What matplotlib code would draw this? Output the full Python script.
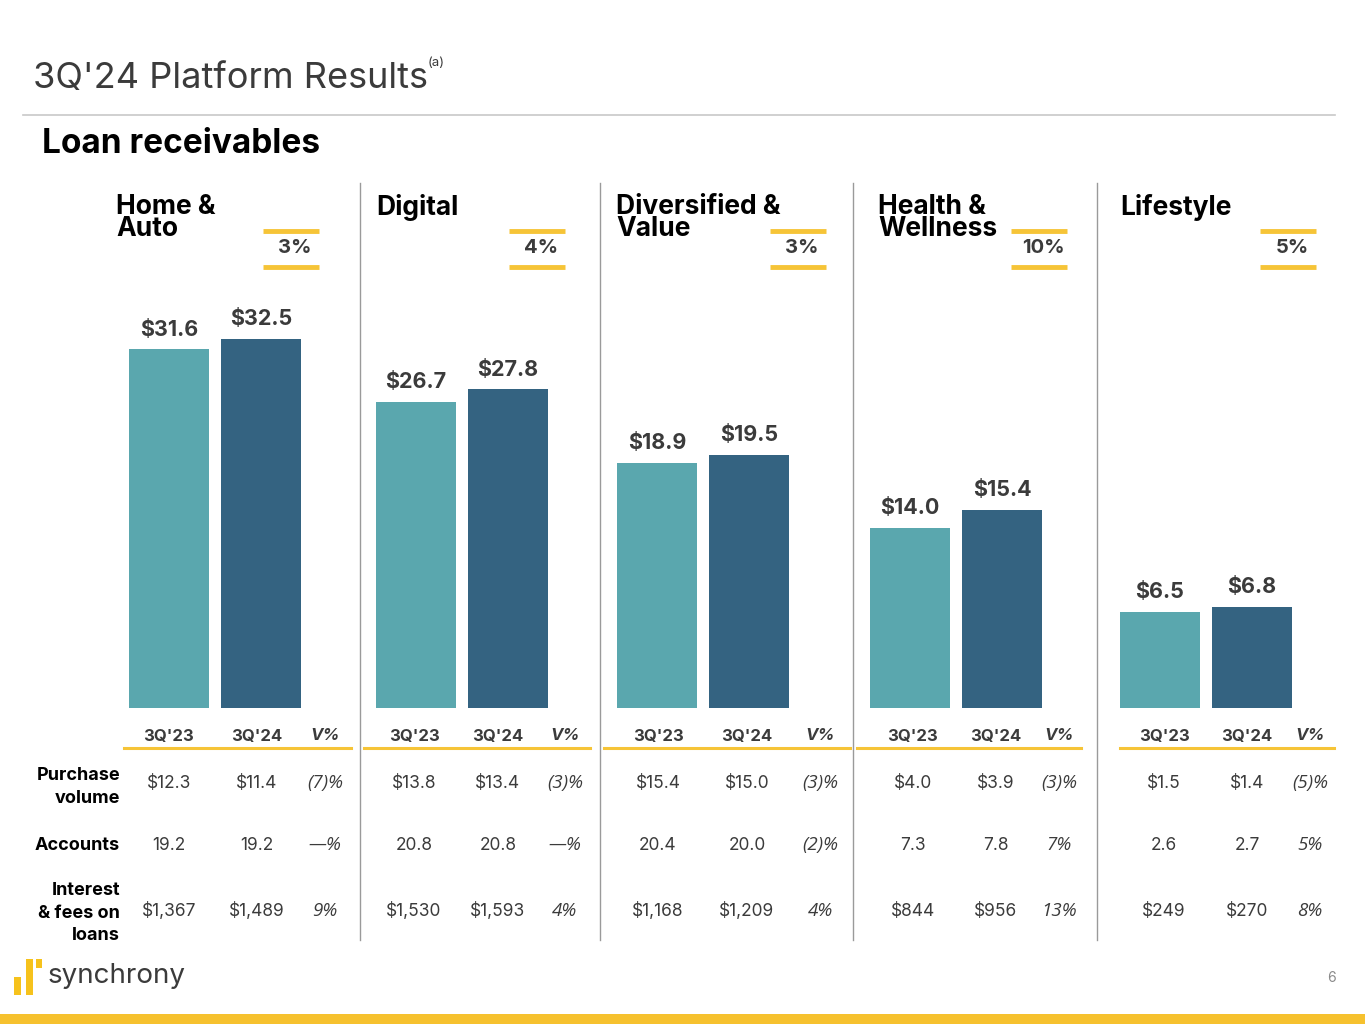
import matplotlib
matplotlib.use("Agg")
import matplotlib.pyplot as plt
from matplotlib.patches import Rectangle

plt.rcParams['font.family'] = ['Inter', 'DejaVu Sans']

# ---- data ----
segments = ["Home &\nAuto", "Digital", "Diversified &\nValue", "Health &\nWellness", "Lifestyle"]
periods = ["3Q'23", "3Q'24"]
loans_23 = [31.6, 26.7, 18.9, 14.0, 6.5]
loans_24 = [32.5, 27.8, 19.5, 15.4, 6.8]
growth = ["3%", "4%", "3%", "10%", "5%"]

row_labels = ["Purchase\nvolume", "Accounts", "Interest\n& fees on\nloans"]
purchase_23 = ["$12.3", "$13.8", "$15.4", "$4.0", "$1.5"]
purchase_24 = ["$11.4", "$13.4", "$15.0", "$3.9", "$1.4"]
purchase_v = ["(7)%", "(3)%", "(3)%", "(3)%", "(5)%"]
accounts_23 = ["19.2", "20.8", "20.4", "7.3", "2.6"]
accounts_24 = ["19.2", "20.8", "20.0", "7.8", "2.7"]
accounts_v = ["\u2014%", "\u2014%", "(2)%", "7%", "5%"]
interest_23 = ["$1,367", "$1,530", "$1,168", "$844", "$249"]
interest_24 = ["$1,489", "$1,593", "$1,209", "$956", "$270"]
interest_v = ["9%", "4%", "4%", "13%", "8%"]

# ---- layout (pixels) ----
W, H = 1365, 1024
TEAL = "#5aa7ae"
NAVY = "#346381"
YELLOW = "#f6c437"
DARK = "#3b3b3b"
ITALIC = ['Open Sans', 'DejaVu Sans']

bar_left = [129, 376, 617, 870, 1120]
panel_title_x = [116, 376, 616, 878, 1120]
growth_x = [291, 537, 798, 1039, 1288]
col_x = [[169, 257, 325], [414, 498, 565], [658, 747, 820], [913, 996, 1059], [1164, 1247, 1310]]
line_span = [(124, 351), (364, 590), (604, 850), (857, 1081), (1120, 1334)]
sep_x = [360, 600, 853, 1097]
px_per_unit = [11.35, 11.46, 12.97, 12.86, 14.83]
bar_bottom, bar_axes_top = 708, 290
step = 92

fig = plt.figure(figsize=(W / 100, H / 100), dpi=100)
bg = fig.add_axes([0, 0, 1, 1])
bg.set_xlim(0, W)
bg.set_ylim(H, 0)
bg.axis("off")

# header
title = bg.text(33, 79, "3Q'24 Platform Results", fontsize=26, color=DARK, va="center", ha="left")
bg.annotate("(a)", xy=(1, 1.0), xycoords=title, xytext=(0, 4), textcoords="offset points",
            fontsize=9.5, color=DARK, ha="left", va="top")
bg.plot([23, 1335], [115, 115], color="#c8c8c8", lw=1.2)
bg.text(42, 144, "Loan receivables", fontsize=24, fontweight="bold", color="black", va="center")

# separators
for x in sep_x:
    bg.plot([x, x], [183, 940], color="#9a9a9a", lw=1)

# row labels
row_y = [783, 845, 911]
label_y = [787, 845, 913]
for lab, y in zip(row_labels, label_y):
    bg.text(120, y, lab, fontsize=13, fontweight="bold", color="black",
            ha="right", va="center", linespacing=1.42)

rows = [(purchase_23, purchase_24, purchase_v),
        (accounts_23, accounts_24, accounts_v),
        (interest_23, interest_24, interest_v)]

for i in range(5):
    # panel title
    bg.text(panel_title_x[i], 194, segments[i], fontsize=19, fontweight="bold",
            color="black", ha="left", va="top", linespacing=0.78)
    # growth box
    gx = growth_x[i]
    bg.plot([gx - 28, gx + 28], [231, 231], color=YELLOW, lw=3.5, solid_capstyle="butt")
    bg.plot([gx - 28, gx + 28], [267, 267], color=YELLOW, lw=3.5, solid_capstyle="butt")
    bg.text(gx + 4, 248, growth[i], fontsize=14.5, fontweight="bold", color=DARK,
            ha="center", va="center")

    # table header
    cx = col_x[i]
    bg.text(cx[0], 736, periods[0], fontsize=12, fontweight="bold", color=DARK, ha="center", va="center")
    bg.text(cx[1], 736, periods[1], fontsize=12, fontweight="bold", color=DARK, ha="center", va="center")
    bg.text(cx[2], 736, "V%", fontsize=12, fontweight="bold", style="italic",
            color=DARK, ha="center", va="center")
    bg.plot(line_span[i], [748, 748], color=YELLOW, lw=2.2)

    for (c23, c24, cv), y in zip(rows, row_y):
        bg.text(cx[0], y, c23[i], fontsize=12.5, color=DARK, ha="center", va="center")
        bg.text(cx[1], y, c24[i], fontsize=12.5, color=DARK, ha="center", va="center")
        bg.text(cx[2], y, cv[i], fontsize=13.5, color=DARK, style="italic", family=ITALIC,
                ha="center", va="center")

    # bars
    left_px = bar_left[i] + 40 - step / 2
    ax_h = bar_bottom - bar_axes_top
    ax = fig.add_axes([left_px / W, 1 - bar_bottom / H, 2 * step / W, ax_h / H])
    ax.set_xlim(-0.5, 1.5)
    ax.set_ylim(0, ax_h / px_per_unit[i])
    ax.axis("off")
    bars = ax.bar([0, 1], [loans_23[i], loans_24[i]], width=80 / step, color=[TEAL, NAVY])
    ax.bar_label(bars, labels=[f"${v:.1f}" for v in (loans_23[i], loans_24[i])],
                 padding=7, fontsize=15.5, fontweight="bold", color=DARK)

# logo and footer
bg.add_patch(Rectangle((14, 977), 7, 18, color="#f6c21c", lw=0))
bg.add_patch(Rectangle((26, 959), 7, 36, color="#f6c21c", lw=0))
bg.add_patch(Rectangle((36, 959), 6, 9, color="#f6c21c", lw=0))
bg.text(48, 976, "synchrony", fontsize=20, color=DARK, ha="left", va="center")
bg.text(1332, 978, "6", fontsize=10, color="#8a8a8a", ha="center", va="center")
bg.add_patch(Rectangle((0, 1014), W, 10, color="#f6c12e", lw=0))

fig.savefig("out.png", dpi=100)
